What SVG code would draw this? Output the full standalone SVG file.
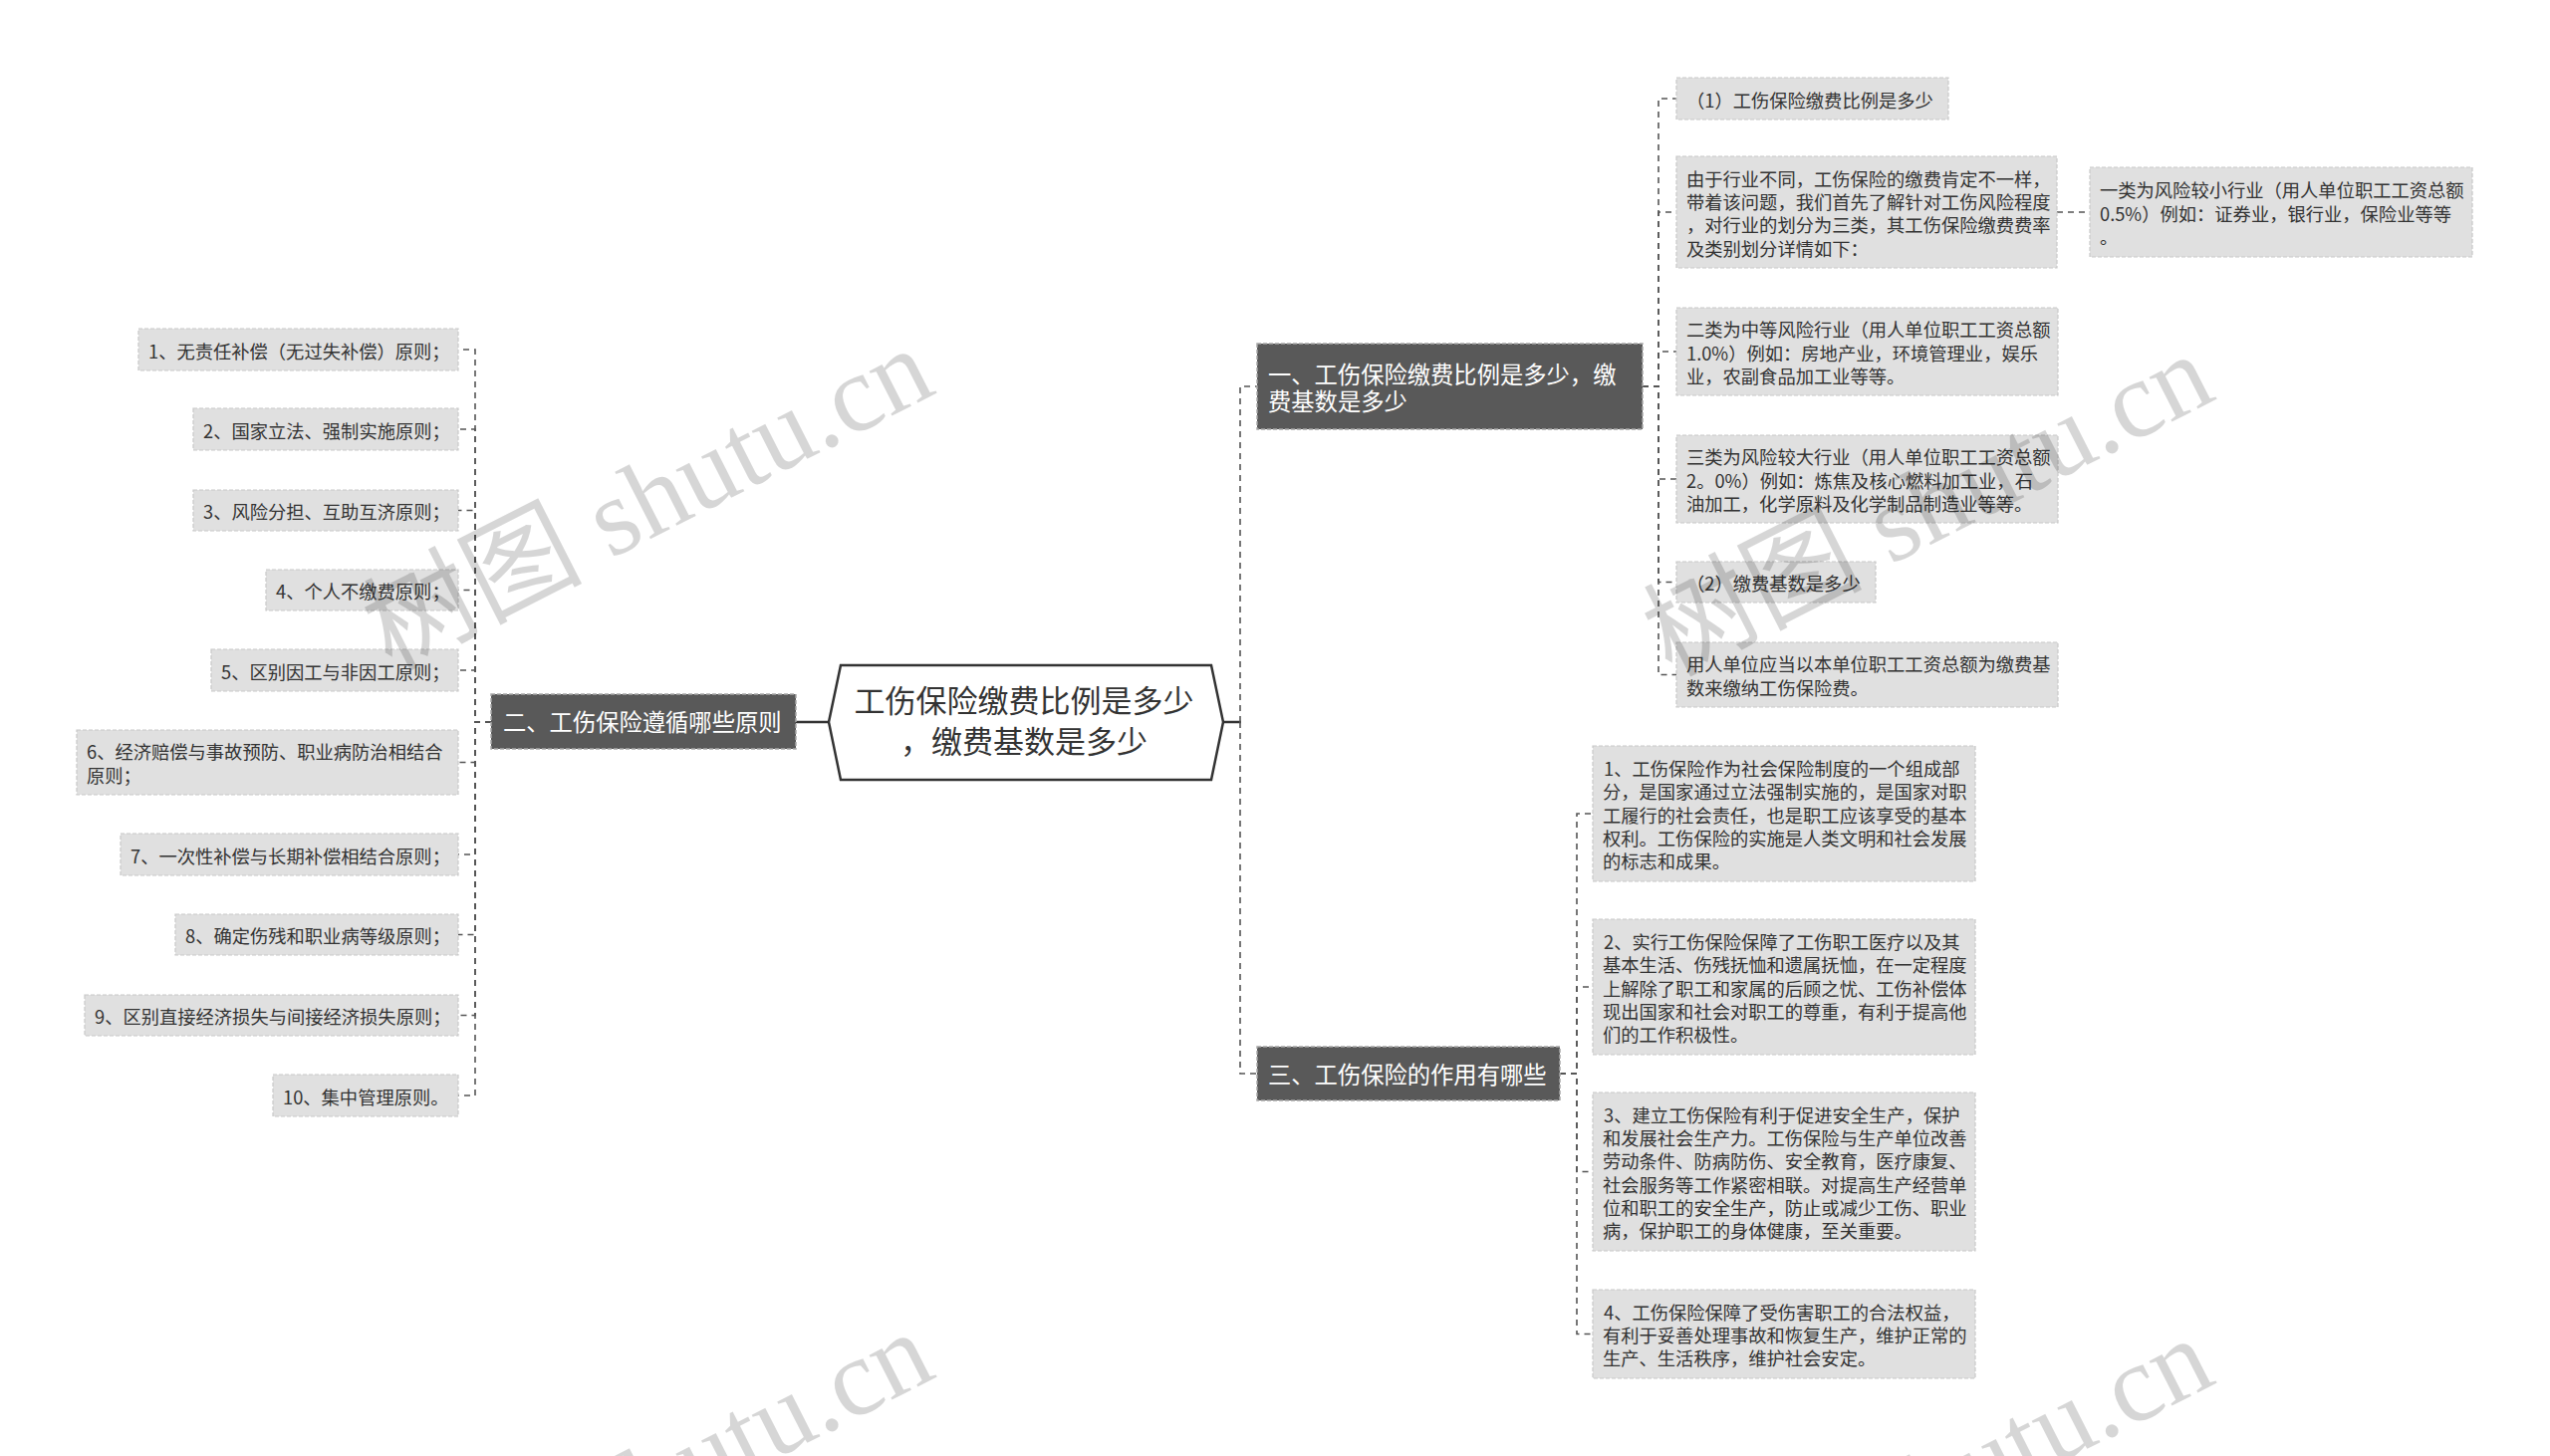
<svg xmlns="http://www.w3.org/2000/svg" width="2560" height="1462" viewBox="0 0 2560 1462">
<style>
text{font-family:"Noto Sans CJK SC","Noto Sans",sans-serif}
.n rect{fill:#e0e0e0;stroke:#c8c8c8;stroke-width:1.2;stroke-dasharray:4 2}
.n text{font-size:18.3px;fill:#333}
.d rect{fill:#595959;stroke:#a8a8a8;stroke-width:1.5;stroke-dasharray:4 2}
.d text{font-size:23.3px;fill:#fff}
.c path{fill:none;stroke:#555;stroke-width:1.6;stroke-dasharray:6 5}
.c .s{stroke:#333;stroke-width:2.5;stroke-dasharray:none}
.w text{font-family:"Liberation Serif","Noto Sans CJK SC",serif;font-size:110px;fill:#000;fill-opacity:0.16}
</style>
<rect width="2560" height="1462" fill="#fff"/>
<g id="connectors" class="c">
<path class="s" d="M799 725H832"/>
<path class="s" d="M1228 725H1246"/>
<path d="M493 725H477V351H460"/>
<path d="M493 725H477V431H460"/>
<path d="M493 725H477V512.5H460"/>
<path d="M493 725H477V592.5H460"/>
<path d="M493 725H477V673H460"/>
<path d="M493 725H477V765.5H460"/>
<path d="M493 725H477V858H460"/>
<path d="M493 725H477V938.5H460"/>
<path d="M493 725H477V1019.5H460"/>
<path d="M493 725H477V1100H460"/>
<path d="M1245 725V388H1262"/>
<path d="M1245 725V1078H1262"/>
<path d="M1649 388H1665V99H1683"/>
<path d="M1649 388H1665V213H1683"/>
<path d="M1649 388H1665V353H1683"/>
<path d="M1649 388H1665V481H1683"/>
<path d="M1649 388H1665V584.5H1683"/>
<path d="M1649 388H1665V677.5H1683"/>
<path d="M2065 213H2098"/>
<path d="M1566 1078H1583V817H1599"/>
<path d="M1566 1078H1583V991H1599"/>
<path d="M1566 1078H1583V1176.5H1599"/>
<path d="M1566 1078H1583V1339.5H1599"/>
</g>
<g id="root">
<polygon points="832,725 844,668 1216,668 1228,725 1216,783 844,783" fill="#fff" stroke="#333" stroke-width="2.5"/>
<text x="1028" y="715.3" font-size="31" fill="#333" text-anchor="middle">工伤保险缴费比例是多少</text>
<text x="1028" y="756.3" font-size="31" fill="#333" text-anchor="middle">，缴费基数是多少</text>
</g>
<g id="b1" class="d"><rect x="1262" y="345" width="387" height="86"/><text x="1273" y="384.5">一、工伤保险缴费比例是多少，缴</text><text x="1273" y="411.5">费基数是多少</text></g>
<g id="b2" class="d"><rect x="493" y="697" width="306" height="55"/><text x="505" y="733.5">二、工伤保险遵循哪些原则</text></g>
<g id="b3" class="d"><rect x="1262" y="1051" width="304" height="54"/><text x="1273" y="1088">三、工伤保险的作用有哪些</text></g>
<g id="l1" class="n"><rect x="139" y="330" width="321" height="42"/><text x="149" y="359.5">1、无责任补偿（无过失补偿）原则；</text></g>
<g id="l2" class="n"><rect x="194" y="410" width="266" height="42"/><text x="204" y="439.5">2、国家立法、强制实施原则；</text></g>
<g id="l3" class="n"><rect x="194" y="492" width="266" height="41"/><text x="204" y="521">3、风险分担、互助互济原则；</text></g>
<g id="l4" class="n"><rect x="267" y="572" width="193" height="41"/><text x="277" y="601">4、个人不缴费原则；</text></g>
<g id="l5" class="n"><rect x="212" y="652" width="248" height="42"/><text x="222" y="681.5">5、区别因工与非因工原则；</text></g>
<g id="l6" class="n"><rect x="77" y="733" width="383" height="65"/><text x="87" y="762.4">6、经济赔偿与事故预防、职业病防治相结合</text><text x="87" y="785.7">原则；</text></g>
<g id="l7" class="n"><rect x="121" y="837" width="339" height="42"/><text x="131" y="866.5">7、一次性补偿与长期补偿相结合原则；</text></g>
<g id="l8" class="n"><rect x="176" y="918" width="284" height="41"/><text x="186" y="947">8、确定伤残和职业病等级原则；</text></g>
<g id="l9" class="n"><rect x="85" y="999" width="375" height="41"/><text x="95" y="1028">9、区别直接经济损失与间接经济损失原则；</text></g>
<g id="l10" class="n"><rect x="274" y="1079" width="186" height="42"/><text x="284" y="1108.5">10、集中管理原则。</text></g>
<g id="r1" class="n"><rect x="1683" y="78" width="273" height="42"/><text x="1693" y="107.5">（1）工伤保险缴费比例是多少</text></g>
<g id="r2" class="n"><rect x="1683" y="157" width="382" height="112"/><text x="1693" y="186.5">由于行业不同，工伤保险的缴费肯定不一样，</text><text x="1693" y="209.8">带着该问题，我们首先了解针对工伤风险程度</text><text x="1693" y="233.2">，对行业的划分为三类，其工伤保险缴费费率</text><text x="1693" y="256.5">及类别划分详情如下：</text></g>
<g id="r2a" class="n"><rect x="2098" y="168" width="384" height="90"/><text x="2108" y="198.2">一类为风险较小行业（用人单位职工工资总额</text><text x="2108" y="221.5">0.5%）例如：证券业，银行业，保险业等等</text><text x="2108" y="244.8">。</text></g>
<g id="r3" class="n"><rect x="1683" y="309" width="383" height="88"/><text x="1693" y="338.2">二类为中等风险行业（用人单位职工工资总额</text><text x="1693" y="361.5">1.0%）例如：房地产业，环境管理业，娱乐</text><text x="1693" y="384.8">业，农副食品加工业等等。</text></g>
<g id="r4" class="n"><rect x="1683" y="437" width="383" height="88"/><text x="1693" y="466.2">三类为风险较大行业（用人单位职工工资总额</text><text x="1693" y="489.5">2。0%）例如：炼焦及核心燃料加工业，石</text><text x="1693" y="512.8">油加工，化学原料及化学制品制造业等等。</text></g>
<g id="r5" class="n"><rect x="1683" y="564" width="200" height="41"/><text x="1693" y="593">（2）缴费基数是多少</text></g>
<g id="r6" class="n"><rect x="1683" y="645" width="383" height="65"/><text x="1693" y="674.4">用人单位应当以本单位职工工资总额为缴费基</text><text x="1693" y="697.6">数来缴纳工伤保险费。</text></g>
<g id="t1" class="n"><rect x="1599" y="749" width="384" height="136"/><text x="1610" y="778.9">1、工伤保险作为社会保险制度的一个组成部</text><text x="1609" y="802.2">分，是国家通过立法强制实施的，是国家对职</text><text x="1609" y="825.5">工履行的社会责任，也是职工应该享受的基本</text><text x="1609" y="848.8">权利。工伤保险的实施是人类文明和社会发展</text><text x="1609" y="872.1">的标志和成果。</text></g>
<g id="t2" class="n"><rect x="1599" y="923" width="384" height="136"/><text x="1610" y="952.9">2、实行工伤保险保障了工伤职工医疗以及其</text><text x="1609" y="976.2">基本生活、伤残抚恤和遗属抚恤，在一定程度</text><text x="1609" y="999.5">上解除了职工和家属的后顾之忧、工伤补偿体</text><text x="1609" y="1022.8">现出国家和社会对职工的尊重，有利于提高他</text><text x="1609" y="1046.1">们的工作积极性。</text></g>
<g id="t3" class="n"><rect x="1599" y="1097" width="384" height="159"/><text x="1610" y="1126.8">3、建立工伤保险有利于促进安全生产，保护</text><text x="1609" y="1150">和发展社会生产力。工伤保险与生产单位改善</text><text x="1609" y="1173.4">劳动条件、防病防伤、安全教育，医疗康复、</text><text x="1609" y="1196.7">社会服务等工作紧密相联。对提高生产经营单</text><text x="1609" y="1220">位和职工的安全生产，防止或减少工伤、职业</text><text x="1609" y="1243.3">病，保护职工的身体健康，至关重要。</text></g>
<g id="t4" class="n"><rect x="1599" y="1295" width="384" height="89"/><text x="1610" y="1324.7">4、工伤保险保障了受伤害职工的合法权益，</text><text x="1609" y="1348">有利于妥善处理事故和恢复生产，维护正常的</text><text x="1609" y="1371.3">生产、生活秩序，维护社会安定。</text></g>
<g class="w">
<text x="650" y="538" text-anchor="middle" transform="rotate(-27 650 500)">树图 shutu.cn</text>
<text x="1935" y="544" text-anchor="middle" transform="rotate(-27 1935 506)">树图 shutu.cn</text>
<text x="650" y="1526" text-anchor="middle" transform="rotate(-27 650 1488)">树图 shutu.cn</text>
<text x="1935" y="1532" text-anchor="middle" transform="rotate(-27 1935 1494)">树图 shutu.cn</text>
</g>
</svg>
